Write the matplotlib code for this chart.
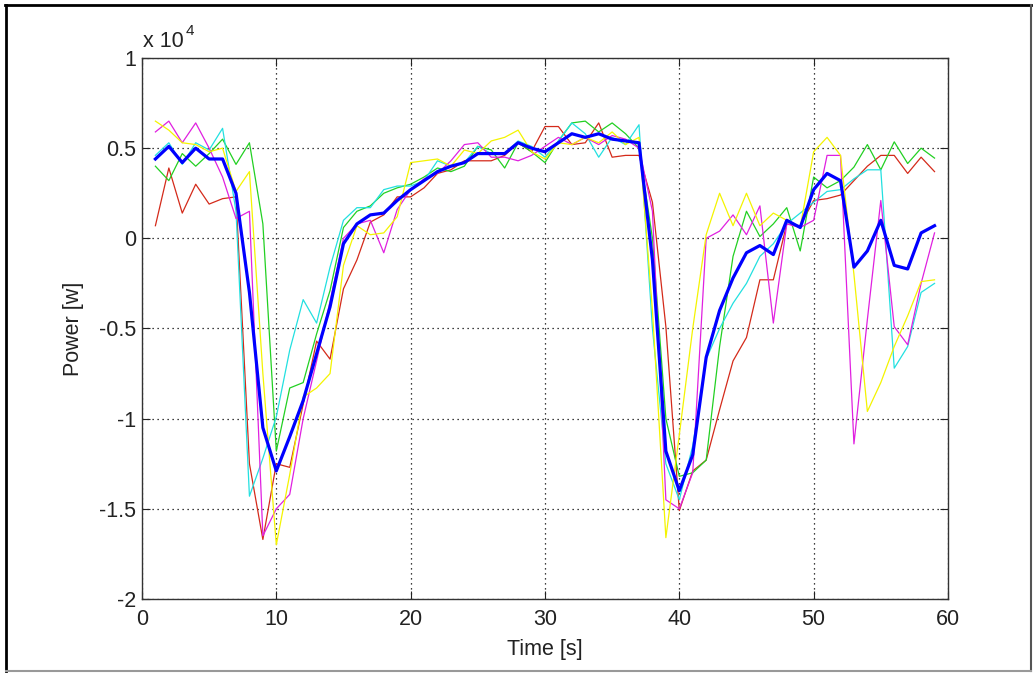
import numpy as np
import matplotlib.pyplot as plt
from matplotlib.ticker import FuncFormatter
from matplotlib.lines import Line2D

# time axis, one sample per second
t = np.arange(1, 60)

red = [700, 3900, 1400, 3000, 1900, 2200, 2300, -12500, -16700, -12500,
       -12700, -9200, -5700, -6700, -2800, -1200, 900, 1300, 2300, 2300,
       2800, 3600, 3800, 4300, 4300, 4300, 4600, 5300, 4800, 6200,
       6200, 5200, 5300, 6400, 4500, 4600, 4600, 2000, -4900, -15100,
       -12900, -12300, -9500, -6800, -5500, -2300, -2300, 800, 700, 2100,
       2200, 2400, 3200, 4000, 4600, 4600, 3600, 4500, 3700]

green = [4000, 3200, 4700, 4000, 4700, 5500, 4100, 5300, 800, -11800,
         -8300, -8000, -5300, -2900, 600, 1500, 1800, 2500, 2800, 3000,
         3400, 3900, 3700, 4000, 5100, 4900, 3900, 5300, 4800, 4200,
         5400, 6400, 6500, 5900, 6400, 5800, 5000, 0, -10000, -13200,
         -13000, -12300, -6000, -1000, 1500, 100, 800, 1700, -700, 3400,
         2800, 3200, 3950, 5200, 3800, 5350, 4150, 5000, 4450]

cyan = [4600, 5300, 4100, 5300, 4900, 6100, 1500, -14300, -12200, -9900,
        -6200, -3400, -4700, -1600, 1000, 1700, 1700, 2700, 2900, 2900,
        3200, 4300, 4000, 4200, 5100, 4700, 4700, 5400, 5100, 4500,
        5400, 6400, 5800, 4500, 5600, 5200, 6300, -5000, -12500, -14500,
        -11500, -6700, -5000, -3600, -2500, -1000, -300, 800, 1400, 2000,
        2600, 2700, 3300, 3800, 3800, -7200, -6000, -3000, -2500]

magenta = [5900, 6500, 5300, 6400, 5000, 3400, 1100, 1500, -16500, -15000,
           -14200, -10000, -6800, -3500, 0, 800, 1000, -800, 1600, 2700,
           3300, 3600, 4300, 5200, 5300, 4500, 4500, 4300, 4600, 5100,
           5600, 5200, 5600, 5200, 5700, 5500, 5000, 1500, -14500, -15000,
           -13000, 0, 400, 1300, 200, 1800, -4700, 800, 600, 1000,
           4600, 4600, -11400, -4500, 2100, -4900, -5900, -2500, 300]

yellow = [6500, 6000, 5300, 5200, 4800, 5000, 2600, 3700, -7500, -17000,
          -13100, -8800, -8300, -7500, -1500, 700, 200, 300, 1200, 4200,
          4300, 4400, 4000, 4900, 4700, 5400, 5600, 6000, 4800, 4400,
          5300, 5200, 5600, 5300, 5900, 5200, 5600, -4000, -16600, -10900,
          -5000, 200, 2500, 700, 2500, 700, 1400, 1000, 600, 4800,
          5600, 4600, -2000, -9600, -8000, -6000, -4300, -2400, -2300]

mean = [4400, 5100, 4200, 5000, 4400, 4400, 2500, -3000, -10500, -12900,
        -11000, -9000, -6400, -3800, -300, 800, 1300, 1400, 2100, 2700,
        3200, 3700, 4000, 4200, 4700, 4700, 4700, 5300, 5000, 4800,
        5300, 5800, 5600, 5800, 5500, 5400, 5300, -1200, -11800, -14000,
        -12000, -6600, -4000, -2200, -800, -400, -900, 1000, 600, 2700,
        3600, 3200, -1600, -700, 1000, -1500, -1700, 300, 700]

plt.rcParams['font.family'] = ['Liberation Sans', 'DejaVu Sans']
fs = 15.5

fig = plt.figure(figsize=(10.34, 6.73), dpi=100)
ax = fig.add_axes([0.1373, 0.110, 0.7795, 0.8038])

ax.plot(t, red, color='#d42a1a', lw=0.9)
ax.plot(t, green, color='#22d022', lw=0.9)
ax.plot(t, cyan, color='#22e0e0', lw=0.9)
ax.plot(t, magenta, color='#e020e0', lw=0.9)
ax.plot(t, yellow, color='#f4f400', lw=0.9)
ax.plot(t, mean, color='#0000ff', lw=2.3)

ax.set_xlim(0, 60)
ax.set_ylim(-20000, 10000)
ax.set_xticks(np.arange(0, 61, 10))
ax.set_yticks(np.arange(-20000, 10001, 5000))
ax.yaxis.set_major_formatter(FuncFormatter(lambda v, p: f'{v / 1e4:g}'))

ax.grid(True, color='k', linestyle=(0, (1, 3)), linewidth=0.9)
ax.tick_params(direction='in', top=True, right=True, length=6, width=0.8,
               labelsize=fs, colors='#222222')
ax.tick_params(axis='x', pad=7)
ax.tick_params(axis='y', pad=4)
for s in ax.spines.values():
    s.set_linewidth(1.0)
    s.set_color('#333333')

ax.set_xlabel('Time [s]', fontsize=fs, labelpad=7, color='#222222')
ax.set_ylabel('Power [w]', fontsize=fs, labelpad=11, color='#222222')

# matlab style exponent above the axes
ax.text(0.001, 1.0203, 'x 10', transform=ax.transAxes, ha='left',
        va='baseline', fontsize=fs, color='#222222')
ax.text(0.054, 1.0425, '4', transform=ax.transAxes, ha='left',
        va='baseline', fontsize=11, color='#222222')

# window frame
fig.add_artist(Line2D([0.005, 0.997], [0.9933, 0.9933], transform=fig.transFigure, color='k', lw=2))
fig.add_artist(Line2D([0.0058, 0.0058], [0.003, 0.9933], transform=fig.transFigure, color='k', lw=2))
fig.add_artist(Line2D([0.997, 0.997], [0.003, 0.9933], transform=fig.transFigure, color='#555555', lw=1.5))
fig.add_artist(Line2D([0.0058, 0.997], [0.003, 0.003], transform=fig.transFigure, color='#999999', lw=1.5))

fig.savefig('out.png', dpi=100)
